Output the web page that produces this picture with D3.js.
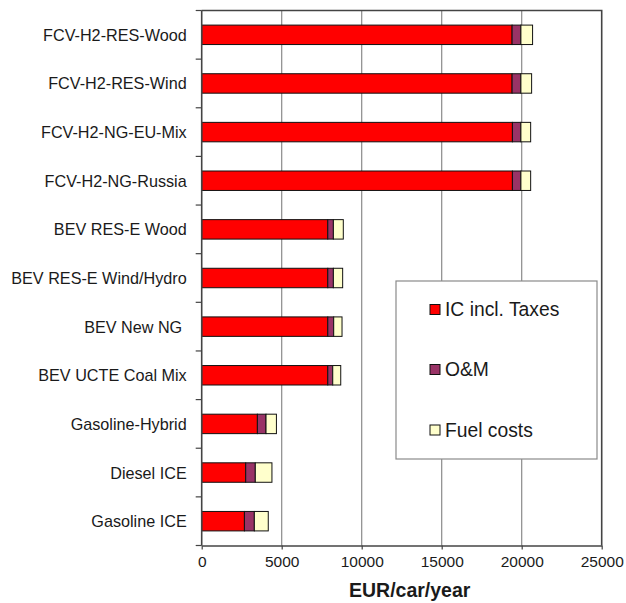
<!DOCTYPE html>
<html>
<head>
<meta charset="utf-8">
<script src="https://cdn.jsdelivr.net/npm/d3@7"></script>
<style>
  html, body { margin: 0; padding: 0; background: #fff; }
  text { font-family: "Liberation Sans", Arial, sans-serif; fill: #1a1a1a; }
</style>
</head>
<body>
<svg id="chart" width="626" height="603"></svg>
<script>
const categories = [
  "FCV-H2-RES-Wood",
  "FCV-H2-RES-Wind",
  "FCV-H2-NG-EU-Mix",
  "FCV-H2-NG-Russia",
  "BEV RES-E Wood",
  "BEV RES-E Wind/Hydro",
  "BEV New NG ",
  "BEV UCTE Coal Mix",
  "Gasoline-Hybrid",
  "Diesel ICE",
  "Gasoline ICE"
];
const seriesNames = ["IC incl. Taxes", "O&M", "Fuel costs"];
const icTaxes   = [19400, 19400, 19420, 19420, 7880, 7880, 7880, 7880, 3480, 2750, 2670];
const oAndM     = [550, 550, 530, 530, 350, 350, 370, 310, 540, 600, 620];
const fuelCosts = [730, 670, 610, 610, 620, 580, 520, 500, 650, 1040, 870];
const xTicks = [0, 5000, 10000, 15000, 20000, 25000];
const xTitle = "EUR/car/year";
const colors = ["#ff0000", "#993366", "#ffffcc"];

const svg = d3.select("#chart");
const margin = { left: 201.7, right: 24.3, top: 10.5, bottom: 57.5 };
const W = 626, H = 603;
const x = d3.scaleLinear().domain([0, 25000]).range([margin.left, W - margin.right]);
const y = d3.scaleBand().domain(categories).range([margin.top, H - margin.bottom])
  .paddingInner(0.6).paddingOuter(0.3);
const yFull = d3.scaleBand().domain(categories).range([margin.top, H - margin.bottom]).padding(0);

// gridlines
svg.append("g").selectAll("line").data(xTicks.slice(1, -1)).join("line")
  .attr("x1", d => x(d)).attr("x2", d => x(d))
  .attr("y1", margin.top).attr("y2", H - margin.bottom)
  .attr("stroke", "#8a8a8a").attr("stroke-width", 1.2);

// frame top & right
svg.append("path")
  .attr("d", `M${x(0)},${margin.top}H${x(25000)}V${H - margin.bottom}`)
  .attr("fill", "none").attr("stroke", "#444").attr("stroke-width", 1.6);

// stacked bars
const stackData = categories.map((c, i) => ({ cat: c, a: icTaxes[i], b: oAndM[i], c: fuelCosts[i] }));
const layers = d3.stack().keys(["a", "b", "c"])(stackData);
svg.append("g").selectAll("g").data(layers).join("g")
  .attr("fill", (d, i) => colors[i])
  .selectAll("rect").data(d => d).join("rect")
  .attr("x", d => x(d[0]))
  .attr("width", d => x(d[1]) - x(d[0]))
  .attr("y", d => y(d.data.cat))
  .attr("height", y.bandwidth())
  .attr("stroke", "#111").attr("stroke-width", 1);

// x axis
const xAxis = d3.axisBottom(x).tickValues(xTicks).tickFormat(d3.format("d")).tickSizeInner(4).tickSizeOuter(0).tickPadding(6);
const gx = svg.append("g").attr("transform", `translate(0,${H - margin.bottom})`).call(xAxis);
gx.select(".domain").attr("stroke", "#444").attr("stroke-width", 1.6);
gx.selectAll(".tick line").attr("stroke", "#444").attr("stroke-width", 1.2);
gx.selectAll("text").style("font-size", "15.5px").attr("fill", "#1a1a1a");

// y axis (ticks at band boundaries)
const boundaries = categories.map(c => yFull(c)).concat([H - margin.bottom]);
svg.append("line").attr("x1", x(0)).attr("x2", x(0)).attr("y1", margin.top).attr("y2", H - margin.bottom)
  .attr("stroke", "#444").attr("stroke-width", 1.6);
svg.append("g").selectAll("line").data(boundaries).join("line")
  .attr("x1", x(0) - 6).attr("x2", x(0)).attr("y1", d => d).attr("y2", d => d)
  .attr("stroke", "#444").attr("stroke-width", 1.2);
svg.append("g").selectAll("text").data(categories).join("text")
  .attr("x", 186.7).attr("y", d => y(d) + y.bandwidth() / 2)
  .attr("text-anchor", "end").attr("dominant-baseline", "central")
  .style("font-size", "16.2px").style("white-space", "pre")
  .text(d => d);

// x title
svg.append("text").attr("x", x(12500) + 8).attr("y", 597)
  .attr("text-anchor", "middle").style("font-size", "19.5px").style("font-weight", "bold")
  .text(xTitle);

// legend
const lg = svg.append("g");
lg.append("rect").attr("x", 396).attr("y", 281).attr("width", 201).attr("height", 178)
  .attr("fill", "#fff").attr("stroke", "#8a8a8a").attr("stroke-width", 1.2);
const legendY = [309.5, 369.5, 430];
const items = lg.selectAll("g.item").data(seriesNames).join("g").attr("class", "item")
  .attr("transform", (d, i) => `translate(430,${legendY[i]})`);
items.append("rect").attr("x", 0).attr("y", -5).attr("width", 10).attr("height", 10)
  .attr("fill", (d, i) => colors[i]).attr("stroke", "#111").attr("stroke-width", 1);
items.append("text").attr("x", 15).attr("y", 0).attr("dominant-baseline", "central")
  .style("font-size", "19.3px").text(d => d);
</script>
</body>
</html>
